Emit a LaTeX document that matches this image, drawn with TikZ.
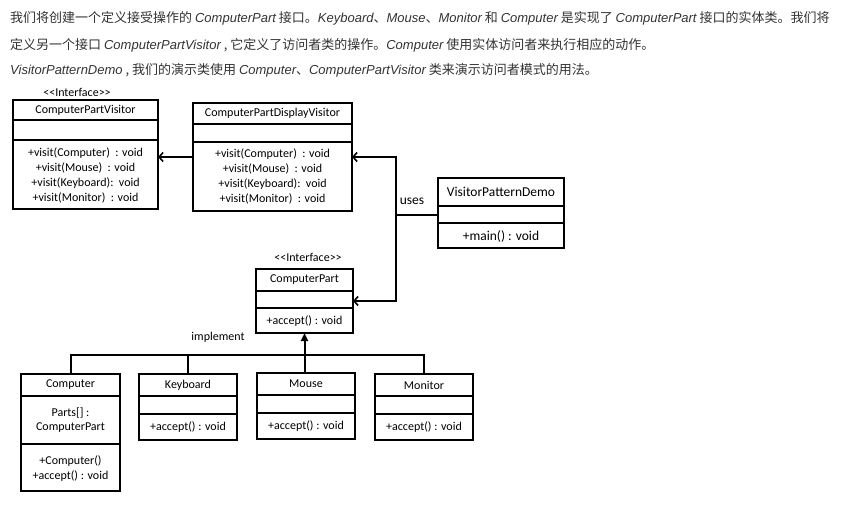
\documentclass[tikz,border=0pt]{standalone}
\usepackage{fontspec}
\setmainfont{Carlito}
\newfontfamily\cjk{Noto Sans CJK SC}
\newfontfamily\latinfont{Liberation Sans}
\usetikzlibrary{arrows.meta}
\newcommand{\latword}[1]{{\latinfont\itshape #1}}
\definecolor{hdr}{HTML}{333333}
\begin{document}
\begin{tikzpicture}[x=1pt,y=-1pt,
  umlbox/.style={draw, line width=1.6pt, inner sep=0pt, outer sep=0pt, anchor=north west},
  sepline/.style={line width=1.2pt},
  txt/.style={font=\fontsize{12}{14}\selectfont, inner sep=0pt},
  bigtxt/.style={font=\fontsize{13.5}{16}\selectfont, inner sep=0pt},
  stereo/.style={font=\fontsize{12}{14}\selectfont, inner sep=0pt},
  conn/.style={line width=2pt},
  arr/.style={-{Straight Barb[length=4pt,width=9pt,line width=1.6pt]}},
  inh/.style={-{Triangle[length=8pt,width=7pt]}},
  hdrtxt/.style={font=\cjk\fontsize{13}{15}\selectfont, text=hdr, inner sep=0pt, anchor=west}]
\useasboundingbox[fill=white] (0,0) rectangle (847,508);

% header text
\node[hdrtxt] (h1) at (10,18) {我们将创建一个定义接受操作的 \latword{ComputerPart} 接口。\latword{Keyboard}、\latword{Mouse}、\latword{Monitor} 和 \latword{Computer} 是实现了 \latword{ComputerPart} 接口的实体类。我们将};
\node[hdrtxt] (h2) at (10,45) {定义另一个接口 \latword{ComputerPartVisitor} , 它定义了访问者类的操作。\latword{Computer} 使用实体访问者来执行相应的动作。};
\node[hdrtxt] (h3) at (10,70) {\latword{VisitorPatternDemo} , 我们的演示类使用 \latword{Computer}、\latword{ComputerPartVisitor} 类来演示访问者模式的用法。};

% ComputerPartVisitor
\node[stereo] (cpvst) at (77,92) {<{}<Interface>{}>};
\node[umlbox, minimum width=145pt, minimum height=109pt] (cpv) at (13,100) {};
\draw[sepline] (13,120) -- (158,120) (13,140) -- (158,140);
\node[txt] (cpvt) at (85.5,110) {ComputerPartVisitor};
\node[txt] (cpvm1) at (85.5,153) {+visit(Computer)\ \ : void};
\node[txt] (cpvm2) at (85.5,168) {+visit(Mouse)\ \ : void};
\node[txt] (cpvm3) at (85.5,183) {+visit(Keyboard):\ \ void};
\node[txt] (cpvm4) at (85.5,198) {+visit(Monitor)\ \ : void};

% ComputerPartDisplayVisitor
\node[umlbox, minimum width=159pt, minimum height=108pt] (cpdv) at (193,103) {};
\draw[sepline] (193,124) -- (352,124) (193,142) -- (352,142);
\node[txt] (cpdvt) at (272.5,113.5) {ComputerPartDisplayVisitor};
\node[txt] (cpdvm1) at (272.5,154) {+visit(Computer)\ \ : void};
\node[txt] (cpdvm2) at (272.5,169) {+visit(Mouse)\ \ : void};
\node[txt] (cpdvm3) at (272.5,184) {+visit(Keyboard):\ \ void};
\node[txt] (cpdvm4) at (272.5,199) {+visit(Monitor)\ \ : void};

% VisitorPatternDemo
\node[umlbox, minimum width=126pt, minimum height=70pt] (vpd) at (438,178) {};
\draw[sepline] (438,206) -- (564,206) (438,223) -- (564,223);
\node[bigtxt] (vpdt) at (501,192) {VisitorPatternDemo};
\node[bigtxt] (vpdm) at (501,236) {+main() : void};

% ComputerPart
\node[stereo] (cpst) at (308,257) {<{}<Interface>{}>};
\node[umlbox, minimum width=97pt, minimum height=64pt] (cp) at (256,269) {};
\draw[sepline] (256,291) -- (353,291) (256,308) -- (353,308);
\node[txt] (cpt) at (304.5,280) {ComputerPart};
\node[txt] (cpm) at (304.5,321) {+accept() : void};

% Computer
\node[umlbox, minimum width=99pt, minimum height=117pt] (comp) at (21,374) {};
\draw[sepline] (21,396) -- (120,396) (21,444) -- (120,444);
\node[txt] (compt) at (70.5,385) {Computer};
\node[txt] (compa1) at (70.5,413) {Parts[] :};
\node[txt] (compa2) at (70.5,428) {ComputerPart};
\node[txt] (compm1) at (70.5,461) {+Computer()};
\node[txt] (compm2) at (70.5,476) {+accept() : void};

% Keyboard
\node[umlbox, minimum width=98pt, minimum height=66pt] (kbd) at (139,374) {};
\draw[sepline] (139,396) -- (237,396) (139,414) -- (237,414);
\node[txt] (kbdt) at (188,385) {Keyboard};
\node[txt] (kbdm) at (188,427) {+accept() : void};

% Mouse
\node[umlbox, minimum width=98pt, minimum height=66pt] (mouse) at (257,373) {};
\draw[sepline] (257,395) -- (355,395) (257,413) -- (355,413);
\node[txt] (mouset) at (306,384) {Mouse};
\node[txt] (mousem) at (306,426) {+accept() : void};

% Monitor
\node[umlbox, minimum width=98pt, minimum height=66pt] (mon) at (375,374) {};
\draw[sepline] (375,396) -- (473,396) (375,414) -- (473,414);
\node[txt] (mont) at (424,385) {Monitor};
\node[txt] (monm) at (424,427) {+accept() : void};

% connectors
\draw[conn, arr] (cpdv.west) -- (cpdv.west -| cpv.east);
\coordinate (j) at (396,215);
\draw[conn] (vpd.west |- j) -- (j);
\draw[conn, arr] (j) |- (cpdv.east);
\draw[conn, arr] (j) |- (cp.east);
\node[bigtxt] (uses) at (412,201) {uses};

\coordinate (bus) at (305,355);
\draw[conn] (comp.north) -- (comp.north |- bus) -- (mon.north |- bus) -- (mon.north);
\draw[conn] (kbd.north) -- (kbd.north |- bus);
\draw[conn, inh] (cp.south |- mouse.north) -- (cp.south);
\node[txt] (impl) at (218,337) {implement};
\end{tikzpicture}
\end{document}
